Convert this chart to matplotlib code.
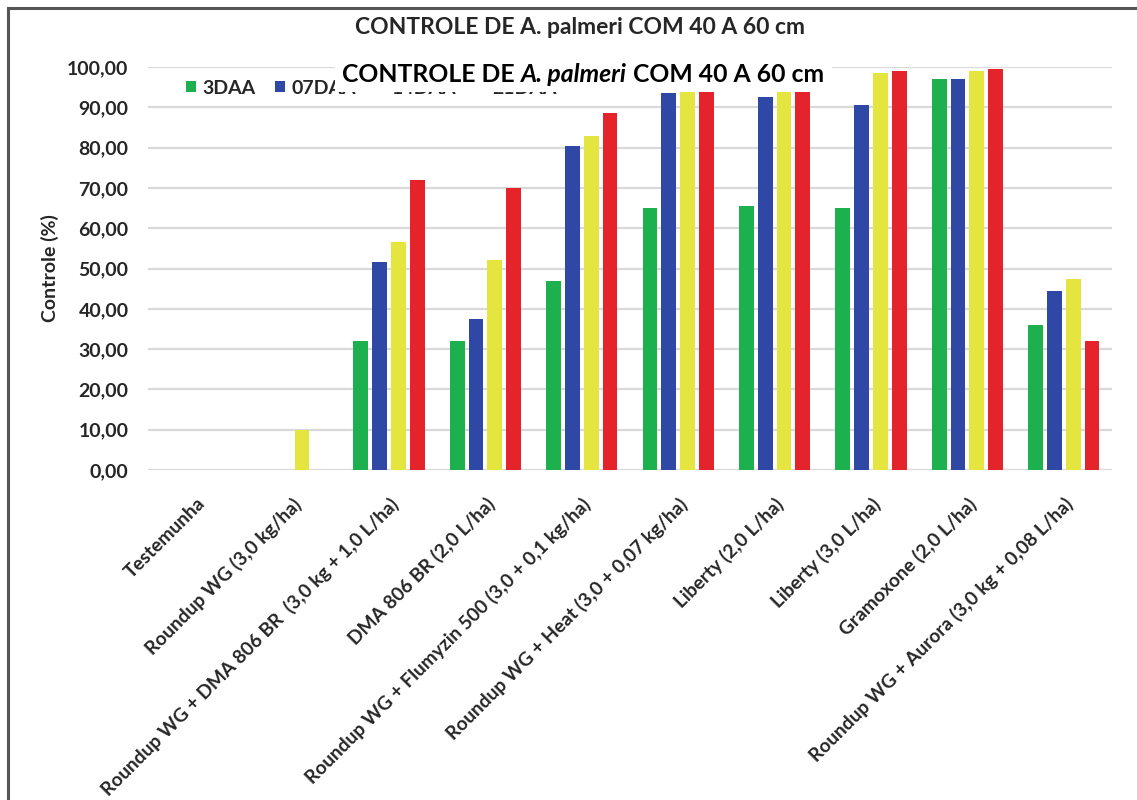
import matplotlib
matplotlib.use("Agg")
import matplotlib.pyplot as plt
import numpy as np
from matplotlib.patches import Rectangle
from matplotlib.lines import Line2D

categories = [
    "Testemunha",
    "Roundup WG (3,0 kg/ha)",
    "Roundup WG + DMA 806 BR  (3,0 kg + 1,0 L/ha)",
    "DMA 806 BR (2,0 L/ha)",
    "Roundup WG + Flumyzin 500 (3,0 + 0,1 kg/ha)",
    "Roundup WG + Heat (3,0 + 0,07 kg/ha)",
    "Liberty (2,0 L/ha)",
    "Liberty (3,0 L/ha)",
    "Gramoxone (2,0 L/ha)",
    "Roundup WG + Aurora (3,0 kg + 0,08 L/ha)",
]
series_names = ["3DAA", "07DAA", "14DAA", "21DAA"]
daa3 = [0, 0, 32.0, 32.0, 47.0, 65.0, 65.5, 65.0, 97.0, 36.0]
daa07 = [0, 0, 51.5, 37.5, 80.5, 93.5, 92.5, 90.5, 97.0, 44.5]
daa14 = [0, 10.0, 56.5, 52.0, 83.0, 97.0, 98.0, 98.5, 99.0, 47.5]
daa21 = [0, 0, 72.0, 70.0, 88.5, 98.0, 99.0, 99.0, 99.5, 32.0]
yticks = [0, 10, 20, 30, 40, 50, 60, 70, 80, 90, 100]

colors = ["#1DB04E", "#2F48A6", "#E5E540", "#E5232B"]
FONT = "Lato"
TXT = "#262626"

W, H = 1137, 800
fig = plt.figure(figsize=(W / 100, H / 100), dpi=100)
fig.patch.set_facecolor("white")

# outer frame (top and left edges only)
fig.add_artist(Line2D([8 / W, 1.0], [1 - 8 / H, 1 - 8 / H], transform=fig.transFigure,
                      color="#555555", linewidth=2.2))
fig.add_artist(Line2D([8 / W, 8 / W], [0, 1 - 8 / H], transform=fig.transFigure,
                      color="#555555", linewidth=2.2))

ax = fig.add_axes([148 / W, (H - 470) / H, (1112 - 148) / W, (470 - 67) / H])
x = np.arange(len(categories))
step, bw = 0.195, 0.155
for i, (vals, c) in enumerate(zip([daa3, daa07, daa14, daa21], colors)):
    ax.bar(x + (i - 1.5) * step, vals, width=bw, color=c, label=series_names[i], zorder=3)

ax.set_xlim(-0.5, len(categories) - 0.5)
ax.set_ylim(0, 100)
ax.set_yticks(yticks)
ax.set_yticklabels([f"{v:.2f}".replace(".", ",") for v in yticks],
                   fontfamily=FONT, fontweight="bold", fontsize=14, color=TXT)
ax.yaxis.grid(True, color="#d9d9d9", linewidth=1.6, zorder=0)
ax.set_axisbelow(True)
for s in ax.spines.values():
    s.set_visible(False)
ax.tick_params(axis="both", length=0)
ax.tick_params(axis="y", pad=14)
ax.set_xticks(x)
ax.set_xticklabels(categories, rotation=45, ha="right", rotation_mode="anchor",
                   fontfamily=FONT, fontweight="bold", fontsize=13.8, color=TXT)
ax.tick_params(axis="x", pad=18)
ax.set_ylabel("Controle (%)", fontfamily=FONT, fontweight="bold", fontsize=14,
              color=TXT, labelpad=6)

leg = ax.legend(loc="center left", bbox_to_anchor=(186 / W, 1 - 88 / H),
                bbox_transform=fig.transFigure, ncol=4, frameon=False,
                borderpad=0, borderaxespad=0,
                handlelength=0.5, handleheight=0.5, handletextpad=0.35, columnspacing=1.0,
                prop={"family": FONT, "weight": "bold", "size": 14})
for t in leg.get_texts():
    t.set_color(TXT)

fig.text(0.51, 1 - 28 / H, "CONTROLE DE A. palmeri COM 40 A 60 cm", ha="center", va="center",
         fontfamily=FONT, fontweight="bold", fontsize=16.5, color=TXT)

# overlay white box with title (covers part of the legend, as in the source)
fig.patches.append(Rectangle((335 / W, 1 - 92 / H), (832 - 335) / W, (92 - 55) / H,
                             transform=fig.transFigure, facecolor="white",
                             edgecolor="none", zorder=10))
parts = [("CONTROLE DE ", "normal"), ("A. palmeri", "italic"), (" COM 40 A 60 cm", "normal")]
r = fig.canvas.get_renderer()
texts = []
for s, st in parts:
    t = fig.text(0, 1 - 74 / H, s, ha="left", va="center", fontfamily=FONT,
                 fontweight="bold", fontstyle=st, fontsize=17.8, color="black", zorder=11)
    texts.append(t)
widths = [t.get_window_extent(r).width for t in texts]
total = sum(widths)
xs = 583 - total / 2
for t, w in zip(texts, widths):
    t.set_x(xs / W)
    xs += w

fig.savefig("out.png", dpi=100, facecolor="white")
